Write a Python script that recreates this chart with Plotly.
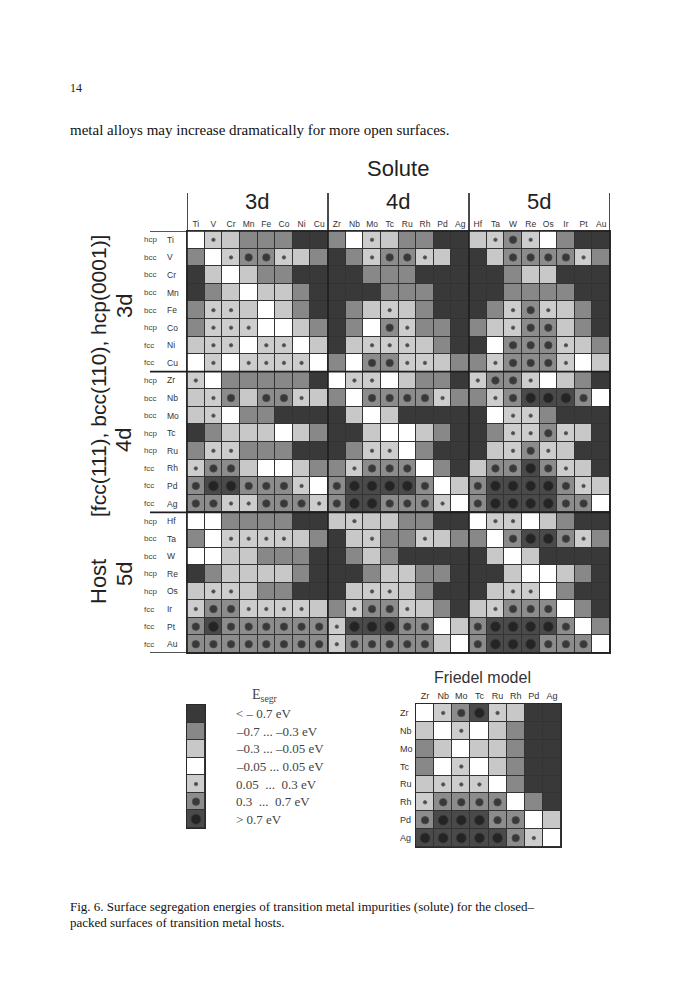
import plotly.graph_objects as go

# page is 691 x 1000; the html body keeps an 8 px margin, so the figure is drawn smaller
PAGE_OFF = 8
W, H = 691 - 2 * PAGE_OFF, 1000 - 2 * PAGE_OFF

# solutes (columns) and hosts (rows)
elements = ["Ti", "V", "Cr", "Mn", "Fe", "Co", "Ni", "Cu",
            "Zr", "Nb", "Mo", "Tc", "Ru", "Rh", "Pd", "Ag",
            "Hf", "Ta", "W", "Re", "Os", "Ir", "Pt", "Au"]
host_struct = ["hcp", "bcc", "bcc", "bcc", "bcc", "hcp", "fcc", "fcc",
               "hcp", "bcc", "bcc", "hcp", "hcp", "fcc", "fcc", "fcc",
               "hcp", "bcc", "bcc", "hcp", "hcp", "fcc", "fcc", "fcc"]

# segregation energy class: 0 '< -0.7' ... 3 '-0.05..0.05' ... 6 '> 0.7'
seg_class = [
    [3, 4, 2, 1, 1, 1, 0, 0, 1, 3, 4, 2, 1, 1, 0, 0, 2, 4, 5, 4, 3, 1, 0, 0],  # Ti
    [1, 3, 4, 5, 5, 4, 2, 1, 0, 1, 4, 5, 5, 4, 2, 0, 0, 2, 5, 5, 5, 5, 4, 1],  # V
    [0, 2, 3, 2, 1, 1, 0, 0, 0, 0, 1, 1, 1, 0, 0, 0, 0, 0, 1, 2, 2, 0, 0, 0],  # Cr
    [0, 1, 2, 3, 2, 2, 1, 0, 0, 0, 0, 1, 1, 1, 0, 0, 0, 0, 1, 1, 1, 1, 0, 0],  # Mn
    [1, 4, 4, 2, 3, 2, 1, 0, 0, 1, 2, 4, 2, 1, 0, 0, 0, 1, 4, 5, 4, 2, 1, 0],  # Fe
    [1, 4, 4, 4, 3, 3, 2, 1, 0, 1, 3, 5, 4, 1, 1, 0, 1, 2, 4, 5, 5, 2, 1, 0],  # Co
    [2, 4, 4, 3, 4, 4, 3, 2, 0, 2, 4, 4, 4, 2, 1, 0, 0, 3, 5, 5, 5, 4, 2, 1],  # Ni
    [3, 4, 3, 4, 4, 4, 4, 3, 1, 3, 5, 5, 4, 4, 2, 1, 1, 4, 5, 5, 5, 4, 3, 2],  # Cu
    [4, 3, 1, 1, 1, 1, 1, 0, 3, 4, 4, 3, 2, 1, 1, 0, 4, 5, 5, 4, 3, 2, 1, 0],  # Zr
    [2, 4, 5, 2, 5, 5, 4, 2, 1, 3, 5, 5, 5, 5, 4, 1, 1, 4, 5, 6, 6, 6, 5, 3],  # Nb
    [2, 4, 3, 1, 1, 0, 0, 0, 0, 2, 3, 2, 0, 0, 0, 0, 0, 3, 4, 4, 1, 0, 0, 0],  # Mo
    [0, 1, 2, 2, 2, 3, 2, 1, 0, 0, 2, 3, 3, 2, 1, 0, 0, 1, 4, 4, 5, 4, 2, 0],  # Tc
    [1, 4, 4, 1, 1, 1, 0, 0, 0, 1, 4, 4, 3, 1, 0, 0, 0, 2, 4, 5, 4, 2, 0, 0],  # Ru
    [4, 5, 5, 2, 3, 3, 2, 1, 1, 4, 5, 5, 5, 3, 1, 0, 2, 5, 5, 6, 5, 4, 2, 0],  # Rh
    [5, 6, 6, 5, 5, 5, 4, 3, 5, 6, 6, 6, 6, 5, 3, 2, 5, 6, 6, 6, 6, 5, 4, 2],  # Pd
    [5, 5, 4, 4, 5, 5, 5, 4, 5, 6, 6, 5, 5, 5, 4, 3, 5, 6, 6, 6, 6, 5, 5, 3],  # Ag
    [3, 3, 1, 1, 1, 1, 0, 0, 2, 4, 2, 2, 1, 1, 0, 0, 3, 4, 4, 3, 2, 1, 0, 0],  # Hf
    [1, 3, 4, 4, 4, 4, 2, 1, 0, 2, 4, 1, 1, 4, 2, 1, 1, 3, 5, 6, 6, 5, 4, 1],  # Ta
    [3, 3, 2, 2, 1, 1, 1, 0, 0, 1, 2, 1, 0, 0, 0, 0, 0, 2, 3, 2, 0, 0, 0, 0],  # W
    [0, 1, 2, 2, 2, 2, 1, 0, 0, 0, 1, 2, 2, 1, 1, 0, 0, 0, 2, 3, 3, 2, 1, 0],  # Re
    [2, 4, 4, 2, 1, 1, 0, 0, 0, 2, 4, 4, 2, 1, 0, 0, 0, 2, 4, 4, 3, 1, 0, 0],  # Os
    [4, 5, 5, 4, 4, 4, 4, 2, 1, 4, 5, 5, 4, 2, 1, 0, 2, 4, 5, 5, 5, 3, 1, 0],  # Ir
    [5, 6, 5, 5, 5, 5, 5, 5, 4, 6, 6, 6, 5, 5, 3, 2, 5, 6, 6, 6, 6, 5, 3, 1],  # Pt
    [5, 5, 5, 5, 5, 5, 5, 5, 4, 5, 5, 5, 5, 5, 2, 3, 5, 6, 6, 6, 5, 5, 5, 3],  # Au
]

# Friedel model, 4d only
friedel_elements = ["Zr", "Nb", "Mo", "Tc", "Ru", "Rh", "Pd", "Ag"]
friedel_class = [
    [3, 4, 5, 6, 4, 2, 0, 0],
    [2, 3, 4, 3, 2, 1, 0, 0],
    [1, 2, 3, 2, 2, 1, 0, 0],
    [1, 3, 4, 3, 2, 1, 0, 0],
    [2, 4, 4, 4, 3, 1, 0, 0],
    [4, 5, 5, 5, 5, 3, 1, 0],
    [5, 6, 6, 6, 5, 5, 3, 2],
    [6, 6, 6, 6, 6, 5, 4, 3],
]

legend_classes = [0, 1, 2, 3, 4, 5, 6]
legend_labels = ["< – 0.7 eV", "–0.7 ... –0.3 eV", "–0.3 ... –0.05 eV", "–0.05 ... 0.05 eV",
                 "0.05  ...  0.3 eV", "0.3  ...  0.7 eV", "> 0.7 eV"]

shades = ["#393939", "#888888", "#c8c8c8", "#ffffff", "#cdcdcd", "#8c8c8c", "#4a4a4a"]
dot_size = {4: 3.5, 5: 7.5, 6: 10}
SANS = "Liberation Sans, Arial, sans-serif"
SERIF = "Liberation Serif, Times New Roman, serif"

#region funcs
def px_x(v):
    return (v - PAGE_OFF) / W

def px_y(v):
    return 1 - (v - PAGE_OFF) / H

def stepScale():
    scale = []
    for i, c in enumerate(shades):
        scale.append([i / 7, c])
        scale.append([(i + 1) / 7, c])
    return scale

def cellTrace(grid, xa, ya):
    return go.Heatmap(z=grid, x=list(range(len(grid[0]))), y=list(range(len(grid))),
                      colorscale=stepScale(), zmin=-0.5, zmax=6.5, showscale=False,
                      xgap=1, ygap=1, hoverinfo="skip", xaxis=xa, yaxis=ya)

def dotTrace(grid, xa, ya):
    xs, ys, ss = [], [], []
    for r, row in enumerate(grid):
        for c, v in enumerate(row):
            if v >= 4:
                xs.append(c)
                ys.append(r)
                ss.append(dot_size[v])
    return go.Scatter(x=xs, y=ys, mode="markers", hoverinfo="skip", showlegend=False,
                      marker=dict(size=ss, color="#151515", line=dict(width=0.8, color="#333333")),
                      xaxis=xa, yaxis=ya)

def gridAxes(n_x, n_y, xdom, ydom, xname, yname, ticktext=None, fsize=8.5):
    xa = dict(domain=xdom, anchor=yname, range=[-0.5, n_x - 0.5], showgrid=False, zeroline=False,
              showline=True, mirror=True, linecolor="#2a2a2a", linewidth=1, fixedrange=True)
    if ticktext:
        xa.update(side="top", tickvals=list(range(n_x)), ticktext=ticktext, ticks="",
                  tickfont=dict(family=SANS, size=fsize, color="#333333"))
    else:
        xa.update(showticklabels=False)
    ya = dict(domain=ydom, anchor=xname, range=[n_y - 0.5, -0.5], showgrid=False, zeroline=False,
              showline=True, mirror=True, linecolor="#2a2a2a", linewidth=1,
              showticklabels=False, fixedrange=True)
    return xa, ya

def text(x, y, s, size, family=SANS, color="#222222", xanchor="center", angle=0, xref="paper", yref="paper"):
    return dict(x=x, y=y, xref=xref, yref=yref, text=s, showarrow=False, xanchor=xanchor,
                yanchor="middle", textangle=angle, font=dict(family=family, size=size, color=color))
#regionend funcs

fig = go.Figure()
fig.add_trace(cellTrace(seg_class, "x", "y"))
fig.add_trace(dotTrace(seg_class, "x", "y"))
fig.add_trace(cellTrace([[k] for k in legend_classes], "x2", "y2"))
fig.add_trace(dotTrace([[k] for k in legend_classes], "x2", "y2"))
fig.add_trace(cellTrace(friedel_class, "x3", "y3"))
fig.add_trace(dotTrace(friedel_class, "x3", "y3"))

xa1, ya1 = gridAxes(24, 24, [px_x(187), px_x(610)], [px_y(653), px_y(231)], "x", "y", elements, 8.5)
xa2, ya2 = gridAxes(1, 7, [px_x(187), px_x(205)], [px_y(828), px_y(705)], "x2", "y2")
xa3, ya3 = gridAxes(8, 8, [px_x(416), px_x(561)], [px_y(847), px_y(704)], "x3", "y3", friedel_elements, 9)

notes = [
    text(px_x(68), px_y(88), "14", 12, SERIF, xanchor="left"),
    text(px_x(68), px_y(130), "metal alloys may increase dramatically for more open surfaces.", 15, SERIF, "#111111", "left"),
    text(px_x(398), px_y(168), "Solute", 22),
    text(px_x(257), px_y(201), "3d", 22),
    text(px_x(398), px_y(201), "4d", 22),
    text(px_x(539), px_y(201), "5d", 22),
    text(px_x(98), px_y(376), "[fcc(111), bcc(110), hcp(0001)]", 21, angle=-90),
    text(px_x(98), px_y(582), "Host", 22, angle=-90),
    text(px_x(124), px_y(306), "3d", 22, angle=-90),
    text(px_x(124), px_y(440), "4d", 22, angle=-90),
    text(px_x(124), px_y(574), "5d", 22, angle=-90),
    text(px_x(265), px_y(695), "E<sub>segr</sub>", 14, SERIF, "#444444"),
    text(px_x(482), px_y(677), "Friedel model", 16, color="#333333"),
    text(px_x(68), px_y(906), "Fig. 6. Surface segregation energies of transition metal impurities (solute) for the closed–",
         13, SERIF, "#111111", "left"),
    text(px_x(68), px_y(922), "packed surfaces of transition metal hosts.", 13, SERIF, "#111111", "left"),
]
for i, el in enumerate(elements):
    notes.append(text(px_x(142), i, host_struct[i], 8, color="#444444", xanchor="left", yref="y"))
    notes.append(text(px_x(165), i, el, 8.5, color="#333333", xanchor="left", yref="y"))
for i, lab in enumerate(legend_labels):
    notes.append(text(px_x(234), i, lab, 13, SERIF, "#444444", "left", yref="y2"))
for i, el in enumerate(friedel_elements):
    notes.append(text(px_x(398), i, el, 9, color="#333333", xanchor="left", yref="y3"))

shapes = []
# group boundaries of solutes
for xb in [-0.5, 7.5, 15.5, 23.5]:
    shapes.append(dict(type="line", xref="x", yref="paper", x0=xb, x1=xb,
                       y0=px_y(653), y1=px_y(193), line=dict(color="#1e1e1e", width=1.6)))
# header rule and host group boundaries
for yb in [-0.5, 7.5, 15.5, 23.5]:
    shapes.append(dict(type="line", xref="paper", yref="y", x0=px_x(150), x1=px_x(610),
                       y0=yb, y1=yb, line=dict(color="#1e1e1e", width=1.6)))

fig.update_layout(
    width=W, height=H, margin=dict(l=0, r=0, t=0, b=0),
    paper_bgcolor="white", plot_bgcolor="#333333", showlegend=False,
    xaxis=xa1, yaxis=ya1, xaxis2=xa2, yaxis2=ya2, xaxis3=xa3, yaxis3=ya3,
    annotations=notes, shapes=shapes,
)
fig.write_html("out.html")
